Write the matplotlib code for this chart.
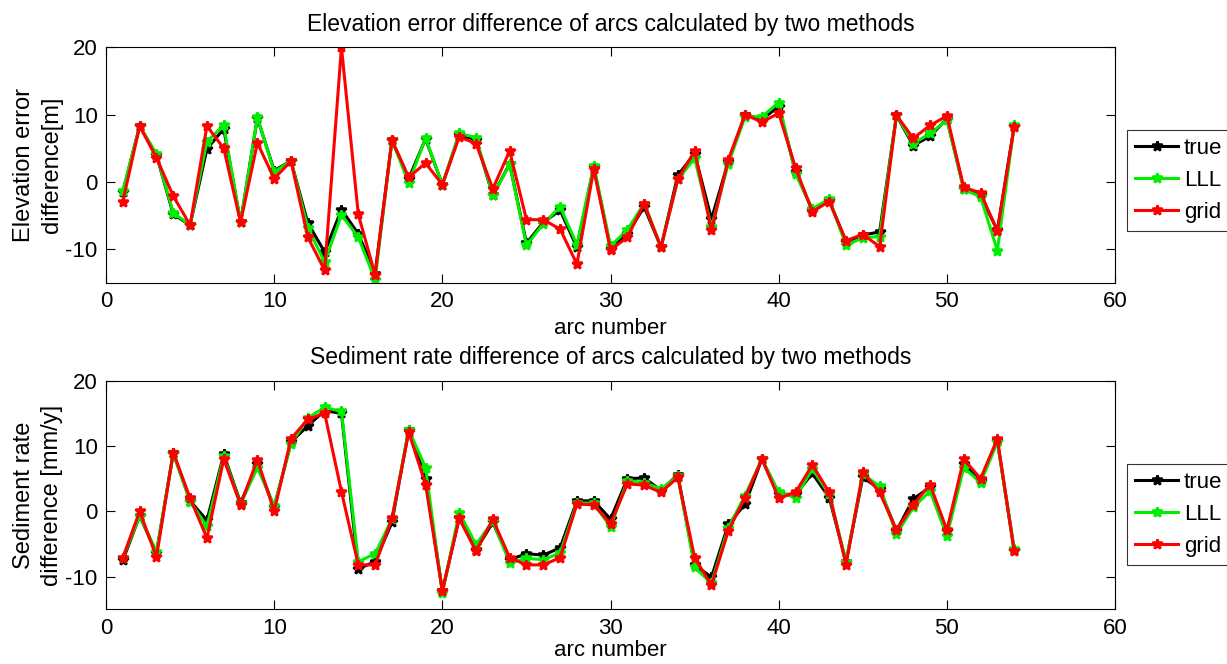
import numpy as np
import matplotlib
matplotlib.use('Agg')
import matplotlib.pyplot as plt

plt.rcParams['font.family'] = ['Liberation Sans', 'DejaVu Sans']
plt.rcParams['axes.unicode_minus'] = False

arcs = np.arange(1, 55)

# elevation error difference [m]
elev_true = [-1.5, 8.3, 4.0, -4.8, -6.4, 4.9, 7.9, -6.0, 9.5, 1.7,
             3.1, -6.1, -10.4, -4.1, -7.7, -13.6, 6.2, 0.5, 6.4, -0.4,
             7.0, 6.3, -2.0, 2.7, -9.1, -6.0, -4.2, -9.7, 2.2, -9.9,
             -7.7, -3.7, -9.7, 1.0, 4.2, -5.5, 3.0, 10.0, 9.3, 11.2,
             1.5, -4.2, -2.7, -8.9, -7.9, -7.4, 9.9, 5.4, 6.8, 9.4,
             -1.0, -2.0, -7.2, 8.3]
elev_lll = [-1.3, 8.3, 4.1, -4.6, -6.4, 6.0, 8.4, -6.0, 9.6, 1.5,
            3.1, -6.8, -11.9, -4.9, -8.2, -14.5, 6.2, -0.1, 6.5, -0.4,
            7.2, 6.6, -2.0, 2.6, -9.4, -6.2, -3.7, -9.3, 2.4, -9.5,
            -7.1, -3.2, -9.7, 0.4, 3.5, -6.7, 2.7, 9.7, 9.7, 11.8,
            1.2, -4.0, -2.5, -9.4, -8.3, -8.1, 9.9, 5.7, 7.2, 9.2,
            -1.1, -2.2, -10.2, 8.4]
elev_grid = [-2.9, 8.3, 3.6, -2.1, -6.4, 8.3, 5.0, -6.0, 5.8, 0.5,
             3.1, -8.2, -13.1, 20.0, -4.8, -13.8, 6.2, 0.7, 2.8, -0.4,
             6.7, 5.7, -1.0, 4.6, -5.6, -5.6, -7.0, -12.2, 1.9, -10.1,
             -8.2, -3.2, -9.7, 0.4, 4.6, -7.2, 3.3, 10.0, 8.9, 10.2,
             2.1, -4.4, -2.9, -8.7, -7.8, -9.6, 9.9, 6.5, 8.4, 9.8,
             -0.8, -1.6, -7.3, 8.2]

# sediment rate difference [mm/y]
sed_true = [-7.5, -0.7, -6.4, 9.0, 1.6, -1.4, 8.7, 1.3, 7.2, 0.6,
            10.6, 13.1, 15.4, 15.0, -8.8, -7.7, -1.7, 12.5, 5.0, -12.2,
            -1.0, -5.9, -1.7, -7.4, -6.5, -6.7, -5.6, 1.6, 1.6, -1.2,
            5.0, 5.1, 3.2, 5.6, -8.2, -10.1, -2.0, 1.1, 8.0, 2.6,
            2.6, 5.8, 2.1, -7.7, 5.2, 3.4, -3.0, 1.9, 3.7, -3.0,
            7.2, 4.7, 10.8, -6.0]
sed_lll = [-7.1, -0.7, -6.2, 8.8, 1.5, -2.3, 8.4, 1.1, 6.7, 0.8,
           10.3, 14.3, 15.9, 15.3, -7.7, -6.5, -1.2, 12.5, 6.7, -12.5,
           -0.2, -5.1, -1.5, -7.9, -7.2, -7.4, -6.4, 1.3, 1.2, -2.4,
           4.7, 4.4, 3.4, 5.4, -8.6, -11.0, -2.5, 2.4, 8.0, 2.9,
           2.1, 6.5, 2.6, -7.7, 5.7, 3.8, -3.5, 0.6, 3.1, -3.8,
           6.7, 4.4, 10.6, -5.7]
sed_grid = [-7.1, 0.0, -7.0, 9.0, 2.0, -4.1, 8.0, 1.0, 7.9, 0.0,
            11.1, 14.1, 15.0, 3.0, -8.2, -8.2, -1.1, 12.1, 4.1, -12.2,
            -1.1, -6.1, -1.2, -7.1, -8.2, -8.2, -7.1, 1.1, 1.0, -1.9,
            4.2, 4.0, 2.9, 5.2, -7.1, -11.3, -3.0, 2.1, 8.0, 2.0,
            2.9, 7.1, 2.9, -8.2, 6.0, 2.9, -2.9, 1.0, 4.1, -2.9,
            8.0, 5.0, 11.1, -6.1]

series_names = ['true', 'LLL', 'grid']
series_colors = ['black', '#00ee00', 'red']

panels = [
    (elev_true, elev_lll, elev_grid,
     'Elevation error difference of arcs calculated by two methods',
     'Elevation error\ndifference[m]'),
    (sed_true, sed_lll, sed_grid,
     'Sediment rate difference of arcs calculated by two methods',
     'Sediment rate\ndifference [mm/y]'),
]

fig = plt.figure(figsize=(12.27, 6.64), dpi=100)
axes_pos = [[0.0864, 0.5738, 0.8224, 0.3550],
            [0.0864, 0.0824, 0.8224, 0.3443]]
legend_y = [0.435, 0.415]
label_pads = [4, 1]

for pos, ly, lp, (t, l, g, title, ylabel) in zip(axes_pos, legend_y, label_pads, panels):
    ax = fig.add_axes(pos)
    for vals, name, col in zip((t, l, g), series_names, series_colors):
        ax.plot(arcs, vals, '-', color=col, lw=2.2, marker='*',
                ms=7, mew=1.8, label=name)
    ax.set_xlim(0, 60)
    ax.set_ylim(-15, 20)
    ax.set_xticks([0, 10, 20, 30, 40, 50, 60])
    ax.set_yticks([-10, 0, 10, 20])
    ax.tick_params(direction='in', top=True, right=True, length=6.5,
                   labelsize=16, pad=6)
    ax.set_title(title, fontsize=16.5, pad=12)
    ax.set_xlabel('arc number', fontsize=16, labelpad=lp)
    ax.set_ylabel(ylabel, fontsize=17, labelpad=2, linespacing=1.35)
    leg = ax.legend(loc='center left', bbox_to_anchor=(1.012, ly),
                    fontsize=16, fancybox=False, edgecolor='black',
                    handlelength=1.95, handletextpad=0.25, borderpad=0.35,
                    labelspacing=0.5, borderaxespad=0)
    leg.get_frame().set_linewidth(0.8)

fig.savefig('out.png', dpi=100)
